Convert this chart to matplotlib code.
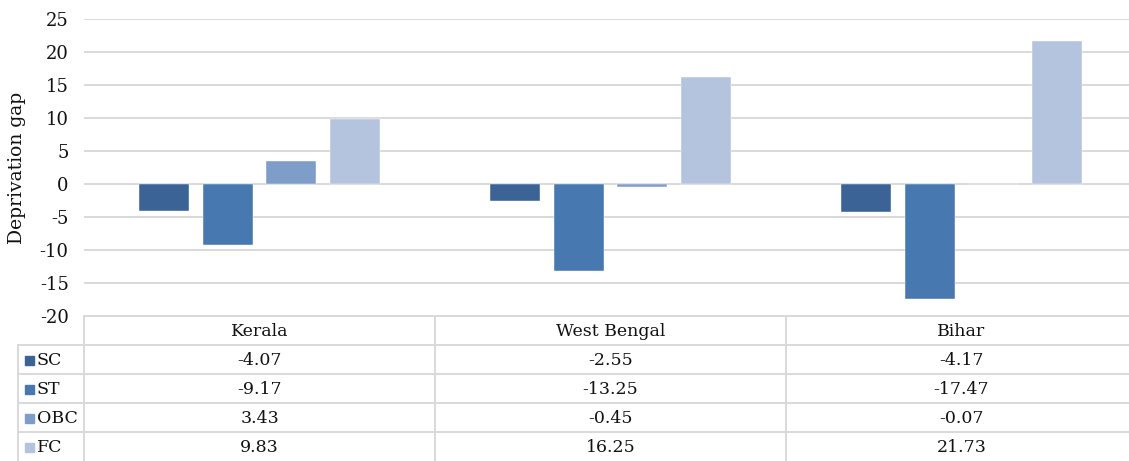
import matplotlib
matplotlib.use('Agg')
import matplotlib.pyplot as plt
import matplotlib.transforms as mtransforms
import numpy as np

# data: deprivation gap by social group and state
states = ['Kerala', 'West Bengal', 'Bihar']
groups = ['SC', 'ST', 'OBC', 'FC']
sc = [-4.07, -2.55, -4.17]
st = [-9.17, -13.25, -17.47]
obc = [3.43, -0.45, -0.07]
fc = [9.83, 16.25, 21.73]
yticks = [-20, -15, -10, -5, 0, 5, 10, 15, 20, 25]

series = [sc, st, obc, fc]
colors = ['#3C6395', '#4878B0', '#7F9DC9', '#B4C4DF']
grid_c = '#D9D9D9'
txt_c = '#111111'

plt.rcParams['font.family'] = ['DejaVu Serif']
W, H = 1129, 461
fig = plt.figure(figsize=(W / 100, H / 100), dpi=100)

# plot area in pixel terms: x 84..1137 (three columns of 351 px), y 19..316
ax = fig.add_axes([84 / W, (H - 316) / H, (1137 - 84) / W, (316 - 19) / H])
x = np.arange(len(states))
offsets = [-0.272, -0.090, 0.090, 0.272]
for vals, off, c in zip(series, offsets, colors):
    ax.bar(x + off, vals, width=0.143, color=c, edgecolor='white', linewidth=0.3, zorder=3)

ax.set_xlim(-0.5, 2.5)
ax.set_ylim(-20, 25)
ax.set_yticks(yticks)
ax.set_yticklabels([str(v) for v in yticks], fontsize=13, color=txt_c)
ax.tick_params(axis='y', length=0, pad=11)
ax.set_xticks([])
ax.grid(axis='y', color=grid_c, linewidth=1.4, zorder=0)
for s in ax.spines.values():
    s.set_visible(False)
ax.set_ylabel('Deprivation gap', fontsize=13.5, color=txt_c, labelpad=10)

# data table below the plot, drawn on a full-figure overlay
ov = fig.add_axes([0, 0, 1, 1], zorder=5)
ov.set_xlim(0, W)
ov.set_ylim(H, 0)
ov.axis('off')
ov.patch.set_alpha(0)

rows = [316, 345, 374, 403, 432]
row_h = 29
lw = 1.4
# horizontal lines
ov.plot([84, W], [316, 316], color=grid_c, lw=lw)
for y in rows[1:]:
    ov.plot([18, W], [y, y], color=grid_c, lw=lw)
# vertical lines
ov.plot([18, 18], [345, H], color=grid_c, lw=lw)
for xv in [84, 435, 786]:
    ov.plot([xv, xv], [316, H], color=grid_c, lw=lw)

blend = mtransforms.blended_transform_factory(ax.transData, ov.transData)
for i, name in enumerate(states):
    ov.text(i, 316 + row_h / 2 + 1, name, transform=blend, ha='center', va='center',
            fontsize=12.5, color=txt_c)
for r, (g, vals, c) in enumerate(zip(groups, series, colors)):
    yc = rows[r + 1] + row_h / 2 + 1
    ov.add_patch(plt.Rectangle((25, yc - 4.5), 9, 9, color=c))
    ov.text(37, yc, g, ha='left', va='center', fontsize=12.5, color=txt_c)
    for i, v in enumerate(vals):
        ov.text(i, yc, f'{v:.2f}', transform=blend, ha='center', va='center',
                fontsize=12.5, color=txt_c)

fig.savefig('out.png', dpi=100)
